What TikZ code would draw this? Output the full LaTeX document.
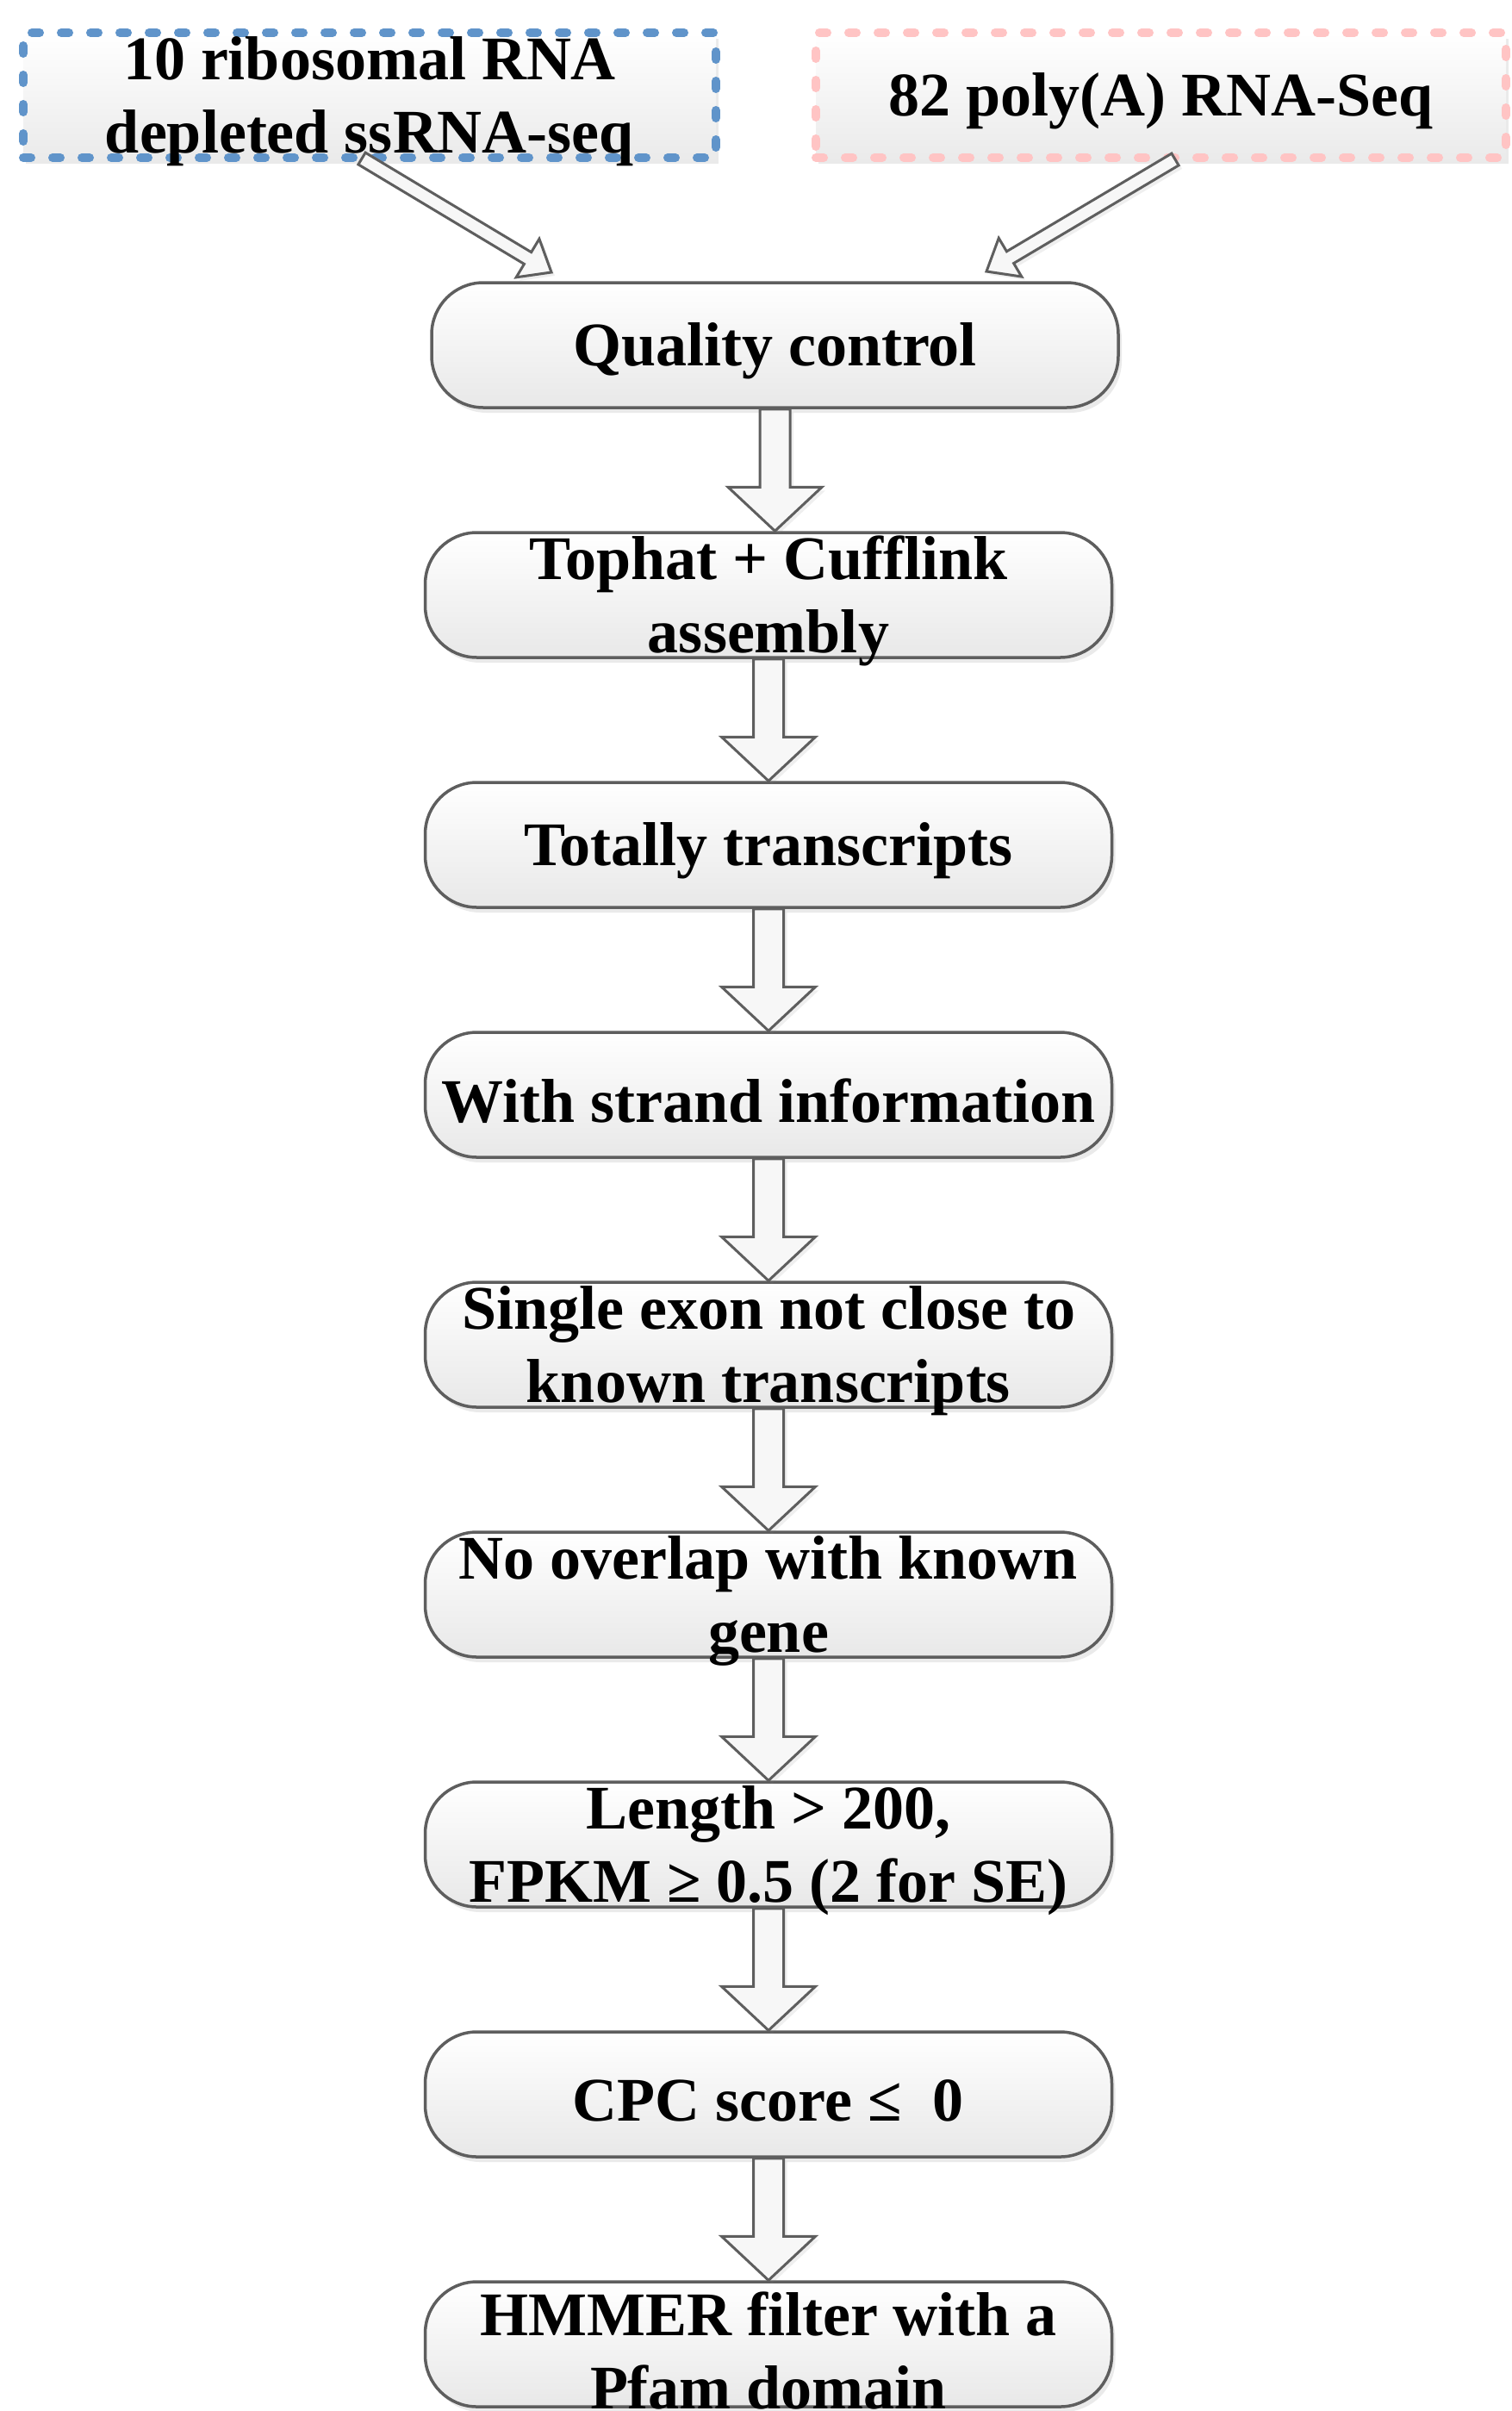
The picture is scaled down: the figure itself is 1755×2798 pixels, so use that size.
\documentclass[tikz,border=0pt]{standalone}
\usepackage{fontspec}
\setmainfont{Liberation Serif}
\usetikzlibrary{calc,shadows}
\definecolor{boxline}{HTML}{5E5E5E}
\definecolor{bluedash}{HTML}{6094CA}
\definecolor{pinkdash}{HTML}{FFC4C4}
\tikzset{
  txt/.style={align=center, font=\fontsize{72}{85}\selectfont\bfseries, inner sep=0pt, yshift=-7pt},
  flowbox/.style={draw=boxline, line width=3.5pt, rounded corners=60pt,
    minimum width=797pt, minimum height=145pt, inner sep=0pt,
    top color=white, bottom color=black!9,
    drop shadow={opacity=0.16, shadow xshift=4pt, shadow yshift=-6pt}},
  srcbox/.style={line width=10pt, dash pattern=on 9pt off 25pt, line cap=round,
    minimum height=145pt, inner sep=0pt,
    top color=white, bottom color=black!8,
    drop shadow={opacity=0.16, shadow xshift=3pt, shadow yshift=-7pt}},
  barrow/.style={draw=boxline, line width=3pt, line join=miter, fill=black!3,
    drop shadow={opacity=0.12, shadow xshift=4pt, shadow yshift=-4pt}}
}
\newcommand\blockarrow[5]{%
  \draw[barrow] let \p1=(#1), \p2=(#2), \n1={atan2(\y2-\y1,\x2-\x1)} in
    ($(\p1)+(\n1+90:#3)$)
    -- ($(\p2)+(\n1+180:#5)+(\n1+90:#3)$)
    -- ($(\p2)+(\n1+180:#5)+(\n1+90:#4)$)
    -- (\p2)
    -- ($(\p2)+(\n1+180:#5)+(\n1-90:#4)$)
    -- ($(\p2)+(\n1+180:#5)+(\n1-90:#3)$)
    -- ($(\p1)+(\n1-90:#3)$) -- cycle;}
\begin{document}
\begin{tikzpicture}[x=1pt,y=-1pt]
\useasboundingbox[fill=white] (0,0) rectangle (1755,2798);

\node[srcbox, draw=bluedash, minimum width=804pt,
  label={[txt]center:{10 ribosomal RNA\\depleted ssRNA-seq}}] (rrna) at (429,110.5) {};
\node[srcbox, draw=pinkdash, minimum width=801pt,
  label={[txt]center:{82 poly(A) RNA-Seq}}] (polya) at (1347.5,110.5) {};

\node[flowbox, label={[txt]center:{Quality control}}] (qc) at (899.5,400.5) {};
\node[flowbox, label={[txt]center:{Tophat + Cufflink\\assembly}}] (tophat) at (892,690.5) {};
\node[flowbox, label={[txt]center:{Totally transcripts}}] (total) at (892,980.5) {};
\node[flowbox, label={[txt]center:{With strand information}}] (strand) at (892,1270.5) {};
\node[flowbox, label={[txt]center:{Single exon not close to\\known transcripts}}] (single) at (892,1560.5) {};
\node[flowbox, label={[txt]center:{No overlap with known\\gene}}] (overlap) at (892,1850.5) {};
\node[flowbox, label={[txt]center:{Length > 200,\\FPKM ≥ 0.5 (2 for SE)}}] (length) at (892,2140.5) {};
\node[flowbox, label={[txt]center:{CPC score ≤\ \ 0}}] (cpc) at (892,2430.5) {};
\node[flowbox, label={[txt]center:{HMMER filter with a\\Pfam domain}}] (hmmer) at (892,2720.5) {};

\coordinate (lt) at (420,184);
\coordinate (lp) at (640,316);
\coordinate (rt) at (1364,185);
\coordinate (rp) at (1145,315);
\blockarrow{lt}{lp}{8pt}{26pt}{32pt}
\blockarrow{rt}{rp}{8pt}{26pt}{32pt}

\blockarrow{qc.south}{qc.south |- tophat.north}{17.5pt}{54.5pt}{51pt}
\blockarrow{tophat.south}{tophat.south |- total.north}{17.5pt}{54.5pt}{51pt}
\blockarrow{total.south}{total.south |- strand.north}{17.5pt}{54.5pt}{51pt}
\blockarrow{strand.south}{strand.south |- single.north}{17.5pt}{54.5pt}{51pt}
\blockarrow{single.south}{single.south |- overlap.north}{17.5pt}{54.5pt}{51pt}
\blockarrow{overlap.south}{overlap.south |- length.north}{17.5pt}{54.5pt}{51pt}
\blockarrow{length.south}{length.south |- cpc.north}{17.5pt}{54.5pt}{51pt}
\blockarrow{cpc.south}{cpc.south |- hmmer.north}{17.5pt}{54.5pt}{51pt}
\end{tikzpicture}
\end{document}
